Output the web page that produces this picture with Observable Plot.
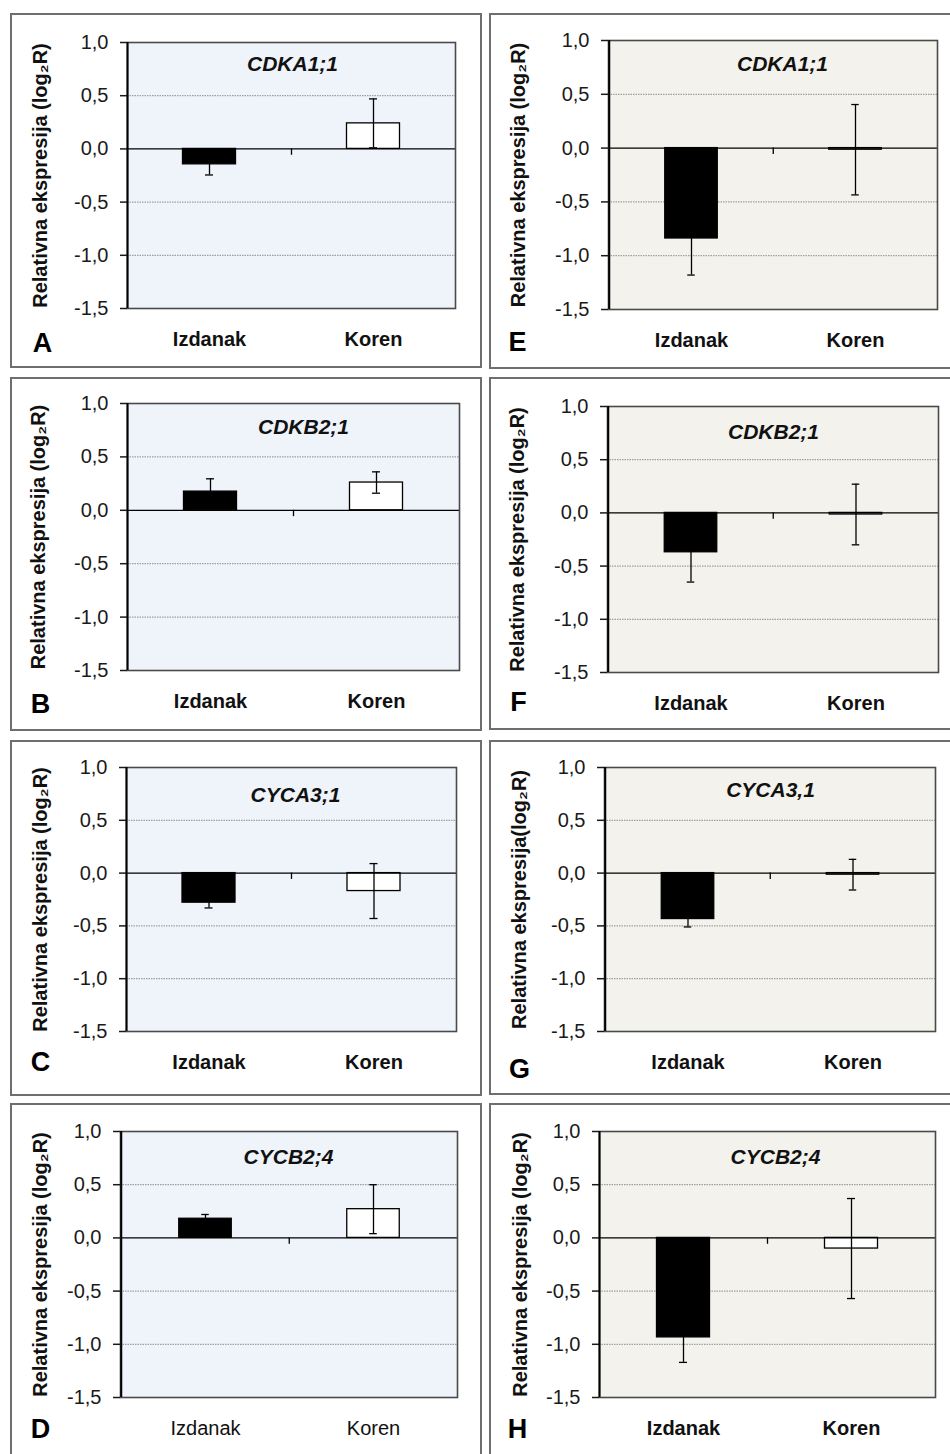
<!DOCTYPE html>
<html><head><meta charset="utf-8">
<script src="https://cdn.jsdelivr.net/npm/d3@7"></script>
<script src="https://cdn.jsdelivr.net/npm/@observablehq/plot@0.6"></script>
<style>
body{margin:0;background:#fff;}
#page{position:relative;width:950px;height:1454px;overflow:hidden;font-family:"Liberation Sans",Arial,sans-serif;background:#fff;}
.box{position:absolute;border:2px solid #6e6e6e;box-sizing:border-box;}
.chart{position:absolute;}
</style></head><body><div id="page"></div>
<script>
// ---- data ----
const categories = ["Izdanak", "Koren"];
const panelLetters = ["A", "B", "C", "D", "E", "F", "G", "H"];
const panelGenes = ["CDKA1;1", "CDKB2;1", "CYCA3;1", "CYCB2;4", "CDKA1;1", "CDKB2;1", "CYCA3,1", "CYCB2;4"];
const izdanakValues = [-0.145, 0.175, -0.28, 0.18, -0.84, -0.37, -0.435, -0.935];
const izdanakErrors = [0.10, 0.12, 0.05, 0.04, 0.34, 0.28, 0.075, 0.235];
const korenValues = [0.24, 0.26, -0.17, 0.27, -0.015, -0.015, -0.015, -0.10];
const korenErrors = [0.23, 0.10, 0.26, 0.23, 0.42, 0.285, 0.145, 0.47];
const yTicks = [-1.5, -1.0, -0.5, 0.0, 0.5, 1.0];
const yLabels = ["Relativna ekspresija (log₂R)", "Relativna ekspresija (log₂R)", "Relativna ekspresija (log₂R)", "Relativna ekspresija (log₂R)",
                 "Relativna ekspresija (log₂R)", "Relativna ekspresija (log₂R)", "Relativna ekspresija(log₂R)", "Relativna ekspresija (log₂R)"];

// ---- layout (page pixels) ----
const layout = [
  {box:[10,13,482,368],  frame:[127,42,455,308],  title:[292,64],   letter:[42,343],  ylab:40,  bg:"#eff3fa", bold:true},
  {box:[10,377,482,731], frame:[127,403,459,670], title:[303,427],  letter:[40,704],  ylab:38,  bg:"#eff3fa", bold:true},
  {box:[10,740,482,1096],frame:[126,767,456,1031],title:[295,795],  letter:[40,1062], ylab:40,  bg:"#eff3fa", bold:true},
  {box:[10,1103,482,1470],frame:[120,1131,457,1397],title:[288,1157],letter:[40,1429], ylab:40, bg:"#eff3fa", bold:false},
  {box:[489,13,960,369], frame:[608,40,937,309],  title:[782,64],   letter:[517,342], ylab:518, bg:"#f3f2ec", bold:true},
  {box:[489,377,960,730],frame:[607,406,938,672], title:[773,432],  letter:[518,702], ylab:517, bg:"#f3f2ec", bold:true},
  {box:[489,740,960,1095],frame:[604,767,935,1031],title:[770,790], letter:[519,1069],ylab:519, bg:"#f3f2ec", bold:true},
  {box:[489,1103,960,1470],frame:[599,1131,935,1397],title:[775,1157],letter:[517,1429],ylab:520, bg:"#f3f2ec", bold:true}
];

const fmt = d => d.toFixed(1).replace(".", ",");
const page = document.getElementById("page");

panelLetters.forEach((letter, i) => {
  const L = layout[i];
  const [bx0, by0, bx1, by1] = L.box;
  const [fx0, fy0, fx1, fy1] = L.frame;
  const W = bx1 - bx0, H = by1 - by0;
  const fw = fx1 - fx0;
  const rows = [
    {cat: categories[0], v: izdanakValues[i], e: izdanakErrors[i]},
    {cat: categories[1], v: korenValues[i], e: korenErrors[i]}
  ];
  const barInset = (fw / 2 - 53) / 2;
  const capInset = (fw / 2 - 8) / 2;

  const box = document.createElement("div");
  box.className = "box";
  Object.assign(box.style, {left: bx0 + "px", top: by0 + "px", width: W + "px", height: H + "px"});
  page.appendChild(box);

  const chart = Plot.plot({
    width: W, height: H,
    marginLeft: fx0 - bx0, marginRight: bx1 - fx1, marginTop: fy0 - by0, marginBottom: by1 - fy1,
    style: {fontFamily: "'Liberation Sans', Arial, sans-serif", background: "transparent", overflow: "visible"},
    x: {domain: categories, padding: 0},
    y: {domain: [-1.5, 1.0]},
    color: {domain: categories, range: ["#000000", "#ffffff"]},
    marks: [
      Plot.frame({fill: L.bg, stroke: null}),
      Plot.ruleY(yTicks.filter(t => t !== 0 && t > -1.5 && t < 1.0), {stroke: "#8a8a8a", strokeWidth: 1, strokeDasharray: "1.5,1"}),
      Plot.barY(rows, {x: "cat", y: "v", fill: "cat", stroke: "#000", strokeWidth: 1.3, insetLeft: barInset, insetRight: barInset}),
      Plot.ruleY([0], {stroke: "#000", strokeWidth: 1.3}),
      Plot.ruleX([categories[1]], {y1: 0, y2: -0.06, dx: -fw / 4, stroke: "#000", strokeWidth: 1.3}),
      Plot.ruleX(rows, {x: "cat", y1: d => d.v - d.e, y2: d => d.v + d.e, stroke: "#000", strokeWidth: 1.3}),
      Plot.tickY(rows, {x: "cat", y: d => d.v - d.e, stroke: "#000", strokeWidth: 1.3, insetLeft: capInset, insetRight: capInset}),
      Plot.tickY(rows, {x: "cat", y: d => d.v + d.e, stroke: "#000", strokeWidth: 1.3, insetLeft: capInset, insetRight: capInset}),
      Plot.frame({stroke: "#4a4a4a", strokeWidth: 1.6}),
      Plot.ruleX([0], {x: () => categories[0], y1: -1.5, y2: 1.0, dx: -fw / 4, stroke: "#000", strokeWidth: 2}),
      Plot.axisY({ticks: yTicks, tickFormat: fmt, tickSize: 7, tickPadding: 12, fontSize: 20, label: null, color: "#1a1a1a", strokeWidth: 1.5}),
      Plot.axisX({tickSize: 0, tickPadding: 23, fontSize: 20, fontWeight: L.bold ? "bold" : "normal", label: null, color: "#111"}),
      Plot.text([panelGenes[i]], {frameAnchor: "top-left", textAnchor: "middle", lineAnchor: "middle", dx: L.title[0] - fx0, dy: L.title[1] - fy0, fontSize: 21, fontWeight: "bold", fontStyle: "italic", fill: "#111"}),
      Plot.text([yLabels[i]], {frameAnchor: "left", textAnchor: "middle", lineAnchor: "middle", rotate: -90, dx: L.ylab - fx0, fontSize: 20, fontWeight: "bold", fill: "#111"}),
      Plot.text([letter], {frameAnchor: "bottom-left", textAnchor: "middle", lineAnchor: "middle", dx: L.letter[0] - fx0, dy: L.letter[1] - fy1, fontSize: 27, fontWeight: "bold", fill: "#000"})
    ]
  });
  chart.classList.add("chart");
  Object.assign(chart.style, {left: bx0 + "px", top: by0 + "px"});
  page.appendChild(chart);
});
</script>
</body></html>
